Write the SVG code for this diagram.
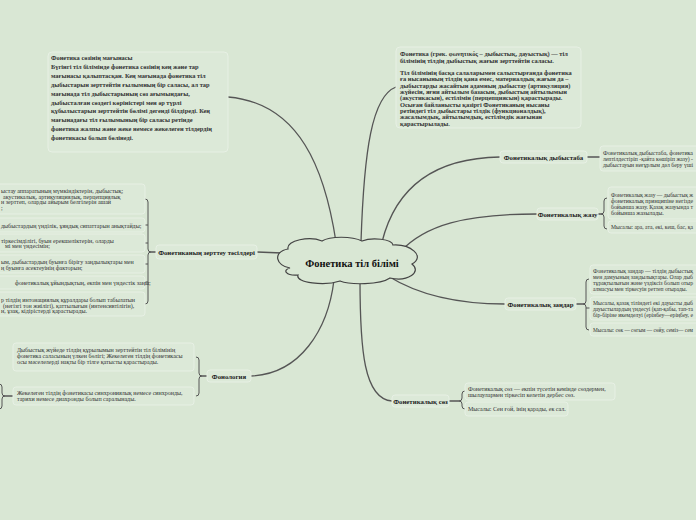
<svg xmlns="http://www.w3.org/2000/svg" width="696" height="520" viewBox="0 0 696 520">
<style>
.bg{fill:#d9e7d4}
.box{fill:#dce9d8;stroke:#e7f0e4;stroke-width:1}
.conn{fill:none;stroke:#555;stroke-width:1.3;stroke-linecap:round}
.br{fill:none;stroke:#555;stroke-width:1}
.t{font-family:"Liberation Serif","Times New Roman",serif;font-size:6px;fill:#333}
.tb{font-family:"Liberation Serif","Times New Roman",serif;font-size:6.4px;font-weight:bold;fill:#333}
.lbl{font-family:"Liberation Serif","Times New Roman",serif;font-size:6.8px;font-weight:bold;fill:#222;text-anchor:middle}
.title{font-family:"Liberation Serif","Times New Roman",serif;font-size:10.5px;font-weight:bold;fill:#111;text-anchor:middle}
.cloud{fill:#d9e7d4;stroke:#444;stroke-width:1.2}
</style>
<rect class="bg" x="0" y="0" width="696" height="520"/>

<g id="connectors">
  <path class="conn" d="M228,97 C300,103 325,170 336,242"/>
  <path class="conn" d="M396,87 C372,96 364,150 361,242"/>
  <path class="conn" d="M382,242 C395,190 432,158 500,157"/>
  <path class="conn" d="M400,252 C425,225 465,214 537,214"/>
  <path class="conn" d="M388,276 C420,296 462,304 505,304"/>
  <path class="conn" d="M360,280 C360,350 364,399 392,401"/>
  <path class="conn" d="M334,280 C328,330 300,374 251,376"/>
  <path class="conn" d="M257,252 L282,253"/>
  <path class="conn" d="M587,157 L600,157"/>
  <path class="conn" d="M598,214 L601,214"/>
  <path class="br" d="M607,198 Q604,198 604,201 L604,211 Q604,214 601,214 Q604,214 604,217 L604,226 Q604,229 607,229"/>
  <path class="conn" d="M576,304 L583,304"/>
  <path class="br" d="M589,279 Q586,279 586,282 L586,301 Q586,304 583,304 Q586,304 586,307 L586,327 Q586,330 589,330"/>
  <path class="br" d="M586,308 L590,308"/>
  <path class="conn" d="M449,401 L459,401"/>
  <path class="br" d="M465,391 Q462,391 462,394 L462,398 Q462,401 459,401 Q462,401 462,404 L462,406 Q462,409 465,409"/>
  <path class="conn" d="M202,376 L207,376"/>
  <path class="br" d="M196,357 Q199,357 199,360 L199,373 Q199,376 202,376 Q199,376 199,379 L199,393 Q199,396 196,396"/>
  <path class="conn" d="M5,396 L13,396"/>
  <path class="br" d="M-1,384 Q2,384 2,387 L2,393 Q2,396 5,396 Q2,396 2,399 L2,406 Q2,409 -1,409"/>
  <path class="conn" d="M151,252 L156,252"/>
  <path class="br" d="M145,199 Q148,199 148,202 L148,249 Q148,252 151,252 Q148,252 148,255 L148,301 Q148,304 145,304"/>
  <path class="br" d="M145,225 L148,225 M145,243 L148,243 M145,264 L148,264 M145,282 L148,282"/>
</g>

<g id="center">
  <path class="cloud" d="M290,268 C276,266 272,252 288,249 C286,240 310,236 322,241 C330,236 352,236 362,241 C372,237 392,239 393,245 C410,244 426,256 412,264 C422,272 408,282 390,278 C380,285 350,285 340,281 C325,286 295,283 298,275 C286,276 282,270 290,268 Z"/>
  <text class="title" x="352" y="267">Фонетика тіл білімі</text>
</g>

<g id="meaning">
  <rect class="box" x="48" y="52" width="180" height="100" rx="4"/>
  <text class="tb">
    <tspan x="51" y="60">Фонетика сөзінің мағынасы</tspan>
    <tspan x="51" y="68.9">Бүгінгі тіл білімінде фонетика сөзінің кең және тар</tspan>
    <tspan x="51" y="77.8">мағынасы қалыптасқан. Кең мағынада фонетика тіл</tspan>
    <tspan x="51" y="86.7">дыбыстарын зерттейтін ғылымның бір саласы, ал тар</tspan>
    <tspan x="51" y="95.6">мағынада тіл дыбыстарының сөз ағымындағы,</tspan>
    <tspan x="51" y="104.5">дыбысталған сөздегі көріністері мен әр түрлі</tspan>
    <tspan x="51" y="113.4">құбылыстарын зерттейтін бөлімі дегенді білдіреді. Кең</tspan>
    <tspan x="51" y="122.3">мағынадағы тіл ғылымының бір саласы ретінде</tspan>
    <tspan x="51" y="131.2">фонетика жалпы және жеке немесе жекелеген тілдердің</tspan>
    <tspan x="51" y="140.1">фонетикасы болып бөлінеді.</tspan>
  </text>
</g>

<g id="definition">
  <rect class="box" x="396" y="47" width="185" height="81" rx="4"/>
  <text class="tb">
    <tspan x="400" y="56.2">Фонетика (грек. φωνητικός – дыбыстық, дауыстық) — тіл</tspan>
    <tspan x="400" y="62.5">білімінің тілдің дыбыстық жағын зерттейтін саласы.</tspan>
    <tspan x="400" y="75.1">Тіл білімінің басқа салаларымен салыстырғанда фонетика</tspan>
    <tspan x="400" y="81.4">ға нысанының тілдің қана емес, материалдық жағын да –</tspan>
    <tspan x="400" y="87.7">дыбыстарды жасайтын адамның дыбыстау (артикуляция)</tspan>
    <tspan x="400" y="94">жүйесін, яғни айтылым базасын, дыбыстың айтылымын</tspan>
    <tspan x="400" y="100.3">(акустикасын), естілімін (перцепциясын) қарастырады.</tspan>
    <tspan x="400" y="106.6">Осыған байланысты қазіргі Фонетиканың нысаны</tspan>
    <tspan x="400" y="112.9">ретіндегі тіл дыбыстары тілдік (функционалдық),</tspan>
    <tspan x="400" y="119.2">жасалымдық, айтылымдық, естілімдік жағынан</tspan>
    <tspan x="400" y="125.5">қарастырылады.</tspan>
  </text>
</g>

<g id="transcription">
  <rect class="box" x="500" y="151" width="87" height="12" rx="3"/>
  <text class="lbl" x="543.5" y="159.5">Фонетикалық дыбыстаба</text>
  <rect class="box" x="600" y="146" width="100" height="25" rx="3"/>
  <text class="t" x="603" y="155" textLength="90" lengthAdjust="spacingAndGlyphs">Фонетикалық дыбыстаба, фонетика</text>
  <text class="t" x="603" y="161" textLength="90" lengthAdjust="spacingAndGlyphs">лептілдестіріп -қайта көшіріп жазу) -</text>
  <text class="t" x="603" y="167" textLength="90" lengthAdjust="spacingAndGlyphs">дыбыстауын неғұрлым дәл беру үші</text>
</g>

<g id="writing">
  <rect class="box" x="537" y="208" width="61" height="12" rx="3"/>
  <text class="lbl" x="567.5" y="216.5">Фонетикалық жазу</text>
  <rect class="box" x="608" y="187" width="92" height="32" rx="3"/>
  <text class="t" x="611" y="197" textLength="82" lengthAdjust="spacingAndGlyphs">Фонетикалық жазу — дыбыстық ж</text>
  <text class="t" x="611" y="203" textLength="82" lengthAdjust="spacingAndGlyphs">фонетикалық принципіне негізде</text>
  <text class="t" x="611" y="209" textLength="82" lengthAdjust="spacingAndGlyphs">бойынша жазу. Қазақ жазуында т</text>
  <text class="t" x="611" y="215">бойынша жазылады.</text>
  <rect class="box" x="608" y="221" width="92" height="12" rx="3"/>
  <text class="t" x="611" y="229" textLength="82" lengthAdjust="spacingAndGlyphs">Мысалы: ара, ата, екі, кеш, бас, қа</text>
</g>

<g id="laws">
  <rect class="box" x="505" y="298" width="71" height="12" rx="3"/>
  <text class="lbl" x="540.5" y="306.5">Фонетикалық заңдар</text>
  <rect class="box" x="590" y="265" width="110" height="29" rx="3"/>
  <text class="t" x="593" y="273" textLength="100" lengthAdjust="spacingAndGlyphs">Фонетикалық заңдар — тілдің дыбыстық</text>
  <text class="t" x="593" y="279" textLength="100" lengthAdjust="spacingAndGlyphs">мен дамуының заңдылықтары. Олар дыб</text>
  <text class="t" x="593" y="285" textLength="100" lengthAdjust="spacingAndGlyphs">тұрақтылығын және үздіксіз болып отыр</text>
  <text class="t" x="593" y="291" textLength="94" lengthAdjust="spacingAndGlyphs">алмасуы мен тіркесуін реттеп отырады.</text>
  <rect class="box" x="590" y="297" width="110" height="23" rx="3"/>
  <text class="t" x="593" y="305" textLength="100" lengthAdjust="spacingAndGlyphs">Мысалы, қазақ тіліндегі екі дауысты дыб</text>
  <text class="t" x="593" y="311" textLength="100" lengthAdjust="spacingAndGlyphs">дауыстылардың үндесуі (қап-қабы, тап-та</text>
  <text class="t" x="593" y="317" textLength="100" lengthAdjust="spacingAndGlyphs">бір-біріне икемделуі (ерінбеу—еріңбеу, е</text>
  <rect class="box" x="590" y="323" width="110" height="13" rx="3"/>
  <text class="t" x="593" y="332" textLength="100" lengthAdjust="spacingAndGlyphs">Мысалы: сөк — сөгым — сөйу, семіз— сем</text>
</g>

<g id="phonetic-word">
  <rect class="box" x="392" y="395" width="57" height="12" rx="3"/>
  <text class="lbl" x="420.5" y="403.5">Фонетикалық сөз</text>
  <rect class="box" x="465" y="383" width="150" height="17" rx="3"/>
  <text class="t">
    <tspan x="468" y="391">Фонетикалық сөз — екпін түсетін кемінде сөздермен,</tspan>
    <tspan x="468" y="397">шылаулармен тіркесіп келетін дербес сөз.</tspan>
  </text>
  <rect class="box" x="465" y="402" width="103" height="14" rx="3"/>
  <text class="t" x="468" y="411">Мысалы: Сен ғой, інің қарады, ек сал.</text>
</g>

<g id="phonology">
  <rect class="box" x="207" y="370" width="44" height="12" rx="3"/>
  <text class="lbl" x="229" y="378.5">Фонология</text>
  <rect class="box" x="13" y="343" width="181" height="28" rx="3"/>
  <text class="t">
    <tspan x="17" y="352">Дыбыстық жүйеде тілдің құрылымын зерттейтін тіл білімінің</tspan>
    <tspan x="17" y="358">фонетика саласының үлкен бөлігі; Жекелеген тілдің фонетикасы</tspan>
    <tspan x="17" y="364">осы мәселелерді нақты бір тілге қатысты қарастырады.</tspan>
  </text>
  <rect class="box" x="13" y="387" width="181" height="18" rx="3"/>
  <text class="t">
    <tspan x="17" y="395">Жекелеген тілдің фонетикасы синхрониялық немесе синхронды,</tspan>
    <tspan x="17" y="401">тарихи немесе диахронды болып саралынады.</tspan>
  </text>
</g>

<g id="methods">
  <rect class="box" x="-40" y="184" width="185" height="30" rx="3"/>
  <text class="t">
    <tspan x="1" y="193">ыстау аппаратының мүмкіндіктерін, дыбыстық;</tspan>
    <tspan x="3" y="198.5">акустикалық, артикуляциялық, перцепциялық</tspan>
    <tspan x="1" y="204">н зерттеп, оларды айырым белгілерін ашай</tspan>
    <tspan x="1" y="209.5">;</tspan>
  </text>
  <rect class="box" x="-40" y="218" width="185" height="14" rx="3"/>
  <text class="t" x="1" y="227.5">дыбыстардың үнділік, ұяңдық сипаттарын анықтайды;</text>
  <rect class="box" x="-40" y="234" width="185" height="18" rx="3"/>
  <text class="t">
    <tspan x="1" y="242.5">тіркесімділігі, буын ерекшеліктерін, оларды</tspan>
    <tspan x="5" y="248">мі мен үндесімін;</tspan>
  </text>
  <rect class="box" x="-40" y="255" width="185" height="18" rx="3"/>
  <text class="t">
    <tspan x="1" y="264">ым, дыбыстардың буынға бірігу заңдылықтары мен</tspan>
    <tspan x="1" y="269.5">ң буынға әсектеуінің факторын;</tspan>
  </text>
  <rect class="box" x="-40" y="276" width="185" height="13" rx="3"/>
  <text class="t" x="15" y="284.5">фонетикалық ұйындықтың, екпін мен үндестік заңы;</text>
  <rect class="box" x="-40" y="292" width="185" height="24" rx="3"/>
  <text class="t">
    <tspan x="1" y="302">р тілдің интонациялық құралдары болып табылатын</tspan>
    <tspan x="3" y="307.5">(негізгі тон жиілігі), қаттылығын (интенсивтілігін),</tspan>
    <tspan x="1" y="313">н, ұзақ, кідірістерді қарастырады.</tspan>
  </text>
  <rect class="box" x="156" y="245" width="101" height="14" rx="3"/>
  <text class="lbl" x="206.5" y="254.5">Фонетиканың зерттеу тәсілдері</text>
</g>
</svg>
